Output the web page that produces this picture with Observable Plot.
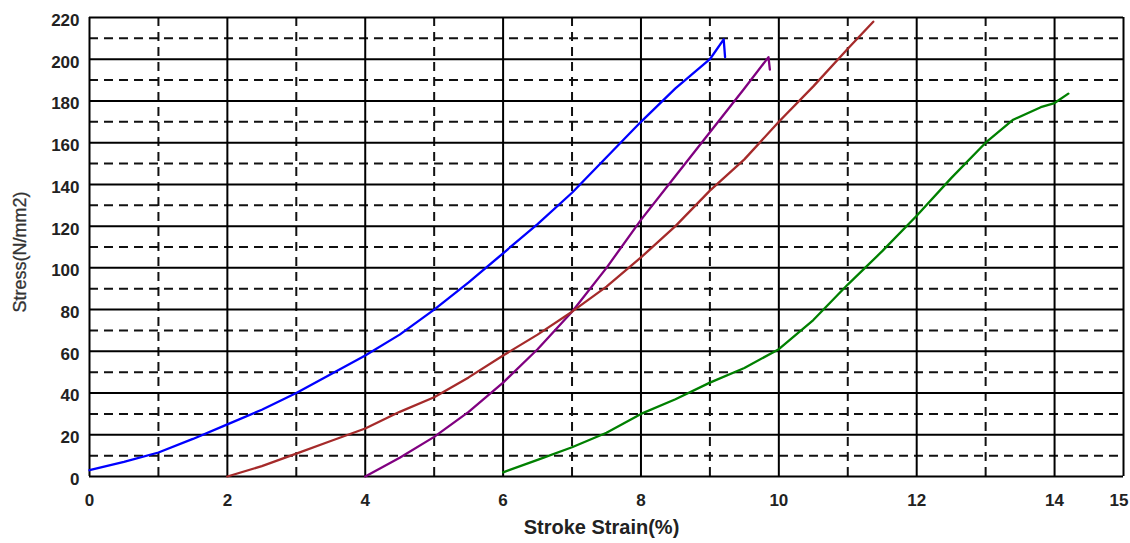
<!DOCTYPE html>
<html>
<head>
<meta charset="utf-8">
<script src="https://cdn.jsdelivr.net/npm/d3@7"></script>
<script src="https://cdn.jsdelivr.net/npm/@observablehq/plot@0.6"></script>
<style>
  html, body { margin: 0; padding: 0; background: #fff; }
  #chart svg { display: block; }
</style>
</head>
<body>
<div id="chart"></div>
<script>
// Stress–strain curves for four specimens, offset along the strain axis
const blueX   = [0, 0.5, 1, 1.5, 2, 2.5, 3, 3.5, 4, 4.5, 5, 5.5, 6, 6.5, 7, 7.5, 8, 8.5, 9, 9.2, 9.22];
const blueY   = [3, 7, 11.5, 18, 25, 32, 40, 49, 58, 68, 80, 93, 107, 121, 136, 153, 170, 186, 200, 209.5, 201];

const purpleX = [4, 4.5, 5, 5.5, 6, 6.5, 7, 7.5, 8, 8.5, 9, 9.5, 9.85, 9.87];
const purpleY = [0, 9, 19, 31, 45, 61, 79, 100, 123, 144, 165, 186, 201, 195];

const brownX  = [2, 2.5, 3, 3.5, 4, 4.5, 5, 5.5, 6, 6.5, 7, 7.5, 8, 8.5, 9, 9.5, 10, 10.5, 11, 11.37];
const brownY  = [0, 5, 11, 17, 23, 31, 38, 47.5, 58, 68, 79, 91, 105, 120, 137, 152, 170, 187, 205, 218];

const greenX  = [6, 6.5, 7, 7.5, 8, 8.5, 9, 9.5, 10, 10.5, 11, 11.5, 12, 12.5, 13, 13.4, 13.8, 14, 14.2];
const greenY  = [2, 8, 14, 21, 30, 37, 45, 52, 61, 75, 92, 108, 125, 143, 160, 171, 177, 179, 183.5];

// Axis ticks and grid positions
const xTicks   = [0, 2, 4, 6, 8, 10, 12, 14];
const xEndTick = [15];
const yTicks   = [0, 20, 40, 60, 80, 100, 120, 140, 160, 180, 200, 220];
const xMajor   = [0, 2, 4, 6, 8, 10, 12, 14, 15];
const xMinor   = [1, 3, 5, 7, 9, 11, 13];
const yMajor   = [0, 20, 40, 60, 80, 100, 120, 140, 160, 180, 200, 220];
const yMinor   = [10, 30, 50, 70, 90, 110, 130, 150, 170, 190, 210];

const series = [
  {name: "blue",   xs: blueX,   ys: blueY,   color: "#0000ff"},
  {name: "purple", xs: purpleX, ys: purpleY, color: "#a000b0"},
  {name: "brown",  xs: brownX,  ys: brownY,  color: "#990000"},
  {name: "green",  xs: greenX,  ys: greenY,  color: "#009000"}
];
const rows = series.flatMap(s => s.xs.map((x, i) => ({series: s.name, x, y: s.ys[i]})));

const font = "'Liberation Sans', Arial, sans-serif";
const textColor = "#222";

const chart = Plot.plot({
  width: 1130,
  height: 543,
  marginLeft: 89,
  marginRight: 7,
  marginTop: 17,
  marginBottom: 67,
  style: {fontFamily: font, background: "#fff"},
  x: {domain: [0, 15]},
  y: {domain: [0, 220]},
  color: {domain: series.map(s => s.name), range: series.map(s => s.color)},
  marks: [
    // dashed grid
    Plot.ruleX(xMinor, {stroke: "#111", strokeWidth: 2, strokeDasharray: "9,6"}),
    Plot.ruleY(yMinor, {stroke: "#111", strokeWidth: 2, strokeDasharray: "9,6"}),
    // solid grid
    Plot.ruleX(xMajor, {stroke: "#000", strokeWidth: 2}),
    Plot.ruleY(yMajor, {stroke: "#000", strokeWidth: 2}),
    // curves
    Plot.line(rows, {x: "x", y: "y", z: "series", stroke: "series", strokeWidth: 2.3}),
    // axes
    Plot.axisX({ticks: xTicks, tickSize: 0, tickPadding: 17, fontSize: 17, fontWeight: "bold",
      fill: textColor, label: null}),
    Plot.text(xEndTick, {x: d => d, frameAnchor: "bottom", textAnchor: "end", lineAnchor: "top",
      dx: 5, dy: 17, fontSize: 17, fontWeight: "bold", fill: textColor}),
    Plot.axisY({ticks: yTicks, tickSize: 0, tickPadding: 10, fontSize: 17, fontWeight: "bold",
      fill: textColor, dy: 3, label: null}),
    Plot.text(["Stroke Strain(%)"], {frameAnchor: "bottom", dx: -5, dy: 57, fontSize: 20,
      fontWeight: "bold", fill: textColor}),
    Plot.text(["Stress(N/mm2)"], {frameAnchor: "left", textAnchor: "middle", dx: -69, dy: 5,
      rotate: -90, fontSize: 18, fill: "#333", stroke: "#333", strokeWidth: 0.3})
  ]
});

document.getElementById("chart").append(chart);
</script>
</body>
</html>
